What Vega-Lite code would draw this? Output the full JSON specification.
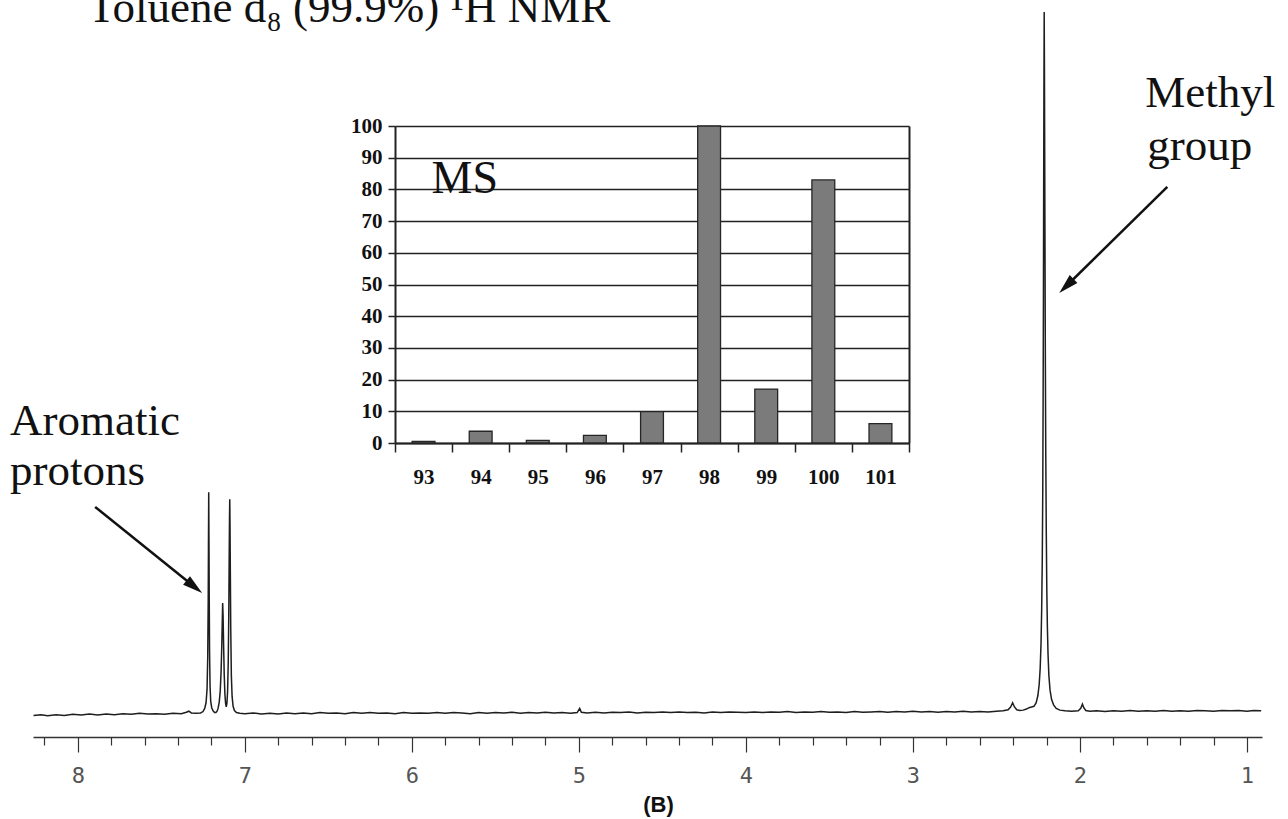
{
  "$schema": "https://vega.github.io/schema/vega-lite/v6.json",
  "width": 1229,
  "height": 737,
  "autosize": {"type": "none"},
  "padding": {"left": 33, "top": 0, "right": 26, "bottom": 82},
  "background": "white",
  "config": {"view": {"stroke": null}},
  "datasets": {
    "nmr": [
      {"shift": 8.265, "intensity": -0.2}, {"shift": 8.22, "intensity": -0.1}, {"shift": 8.18, "intensity": -0.25}, {"shift": 8.13, "intensity": -0.1},
      {"shift": 8.08, "intensity": -0.2}, {"shift": 8.03, "intensity": -0.05}, {"shift": 7.98, "intensity": -0.15}, {"shift": 7.93, "intensity": 0.0},
      {"shift": 7.88, "intensity": -0.15}, {"shift": 7.83, "intensity": 0.0}, {"shift": 7.78, "intensity": -0.1}, {"shift": 7.73, "intensity": 0.05},
      {"shift": 7.68, "intensity": -0.05}, {"shift": 7.63, "intensity": 0.1}, {"shift": 7.58, "intensity": 0.0}, {"shift": 7.53, "intensity": 0.05},
      {"shift": 7.48, "intensity": -0.05}, {"shift": 7.43, "intensity": 0.1}, {"shift": 7.38, "intensity": 0.05}, {"shift": 7.35, "intensity": 0.25},
      {"shift": 7.335, "intensity": 0.4}, {"shift": 7.32, "intensity": 0.15}, {"shift": 7.29, "intensity": 0.1}, {"shift": 7.265, "intensity": 0.15},
      {"shift": 7.25, "intensity": 0.35}, {"shift": 7.24, "intensity": 0.8}, {"shift": 7.232, "intensity": 1.6}, {"shift": 7.226, "intensity": 3.5},
      {"shift": 7.222, "intensity": 8}, {"shift": 7.219, "intensity": 16}, {"shift": 7.2175, "intensity": 24}, {"shift": 7.216, "intensity": 31.6},
      {"shift": 7.2145, "intensity": 25}, {"shift": 7.213, "intensity": 17}, {"shift": 7.211, "intensity": 9}, {"shift": 7.208, "intensity": 4},
      {"shift": 7.204, "intensity": 1.8}, {"shift": 7.198, "intensity": 0.9}, {"shift": 7.19, "intensity": 0.45}, {"shift": 7.181, "intensity": 0.2},
      {"shift": 7.173, "intensity": 0.2}, {"shift": 7.166, "intensity": 0.4}, {"shift": 7.16, "intensity": 0.8}, {"shift": 7.153, "intensity": 1.7},
      {"shift": 7.147, "intensity": 3.3}, {"shift": 7.142, "intensity": 6}, {"shift": 7.138, "intensity": 9.5}, {"shift": 7.135, "intensity": 13},
      {"shift": 7.1325, "intensity": 15.8}, {"shift": 7.13, "intensity": 14}, {"shift": 7.127, "intensity": 10}, {"shift": 7.123, "intensity": 5.5},
      {"shift": 7.119, "intensity": 2.8}, {"shift": 7.115, "intensity": 1.5}, {"shift": 7.111, "intensity": 1.0}, {"shift": 7.107, "intensity": 1.5},
      {"shift": 7.103, "intensity": 3.2}, {"shift": 7.099, "intensity": 7.5}, {"shift": 7.096, "intensity": 14}, {"shift": 7.0935, "intensity": 22},
      {"shift": 7.0915, "intensity": 28}, {"shift": 7.09, "intensity": 30.6}, {"shift": 7.0885, "intensity": 27}, {"shift": 7.0865, "intensity": 20},
      {"shift": 7.084, "intensity": 12}, {"shift": 7.0805, "intensity": 5.5}, {"shift": 7.076, "intensity": 2.5}, {"shift": 7.07, "intensity": 1.1},
      {"shift": 7.062, "intensity": 0.5}, {"shift": 7.05, "intensity": 0.2}, {"shift": 7.03, "intensity": 0.1}, {"shift": 7.0, "intensity": 0.05},
      {"shift": 6.95, "intensity": 0.15}, {"shift": 6.9, "intensity": 0.0}, {"shift": 6.85, "intensity": 0.1}, {"shift": 6.8, "intensity": 0.0},
      {"shift": 6.75, "intensity": 0.15}, {"shift": 6.7, "intensity": 0.05}, {"shift": 6.65, "intensity": 0.15}, {"shift": 6.6, "intensity": 0.05},
      {"shift": 6.55, "intensity": 0.2}, {"shift": 6.5, "intensity": 0.1}, {"shift": 6.45, "intensity": 0.15}, {"shift": 6.4, "intensity": 0.05},
      {"shift": 6.35, "intensity": 0.2}, {"shift": 6.3, "intensity": 0.1}, {"shift": 6.25, "intensity": 0.2}, {"shift": 6.2, "intensity": 0.1},
      {"shift": 6.15, "intensity": 0.15}, {"shift": 6.1, "intensity": 0.05}, {"shift": 6.05, "intensity": 0.2}, {"shift": 6.0, "intensity": 0.1},
      {"shift": 5.95, "intensity": 0.15}, {"shift": 5.9, "intensity": 0.1}, {"shift": 5.85, "intensity": 0.2}, {"shift": 5.8, "intensity": 0.1},
      {"shift": 5.75, "intensity": 0.2}, {"shift": 5.7, "intensity": 0.15}, {"shift": 5.65, "intensity": 0.05}, {"shift": 5.6, "intensity": 0.2},
      {"shift": 5.55, "intensity": 0.1}, {"shift": 5.5, "intensity": 0.2}, {"shift": 5.45, "intensity": 0.15}, {"shift": 5.4, "intensity": 0.25},
      {"shift": 5.35, "intensity": 0.1}, {"shift": 5.3, "intensity": 0.2}, {"shift": 5.25, "intensity": 0.15}, {"shift": 5.2, "intensity": 0.25},
      {"shift": 5.15, "intensity": 0.15}, {"shift": 5.1, "intensity": 0.2}, {"shift": 5.05, "intensity": 0.1}, {"shift": 5.01, "intensity": 0.2},
      {"shift": 4.995, "intensity": 0.8}, {"shift": 4.985, "intensity": 0.25}, {"shift": 4.95, "intensity": 0.15}, {"shift": 4.9, "intensity": 0.25},
      {"shift": 4.85, "intensity": 0.15}, {"shift": 4.8, "intensity": 0.25}, {"shift": 4.75, "intensity": 0.2}, {"shift": 4.7, "intensity": 0.3},
      {"shift": 4.65, "intensity": 0.15}, {"shift": 4.6, "intensity": 0.25}, {"shift": 4.55, "intensity": 0.2}, {"shift": 4.5, "intensity": 0.3},
      {"shift": 4.45, "intensity": 0.2}, {"shift": 4.4, "intensity": 0.3}, {"shift": 4.35, "intensity": 0.2}, {"shift": 4.3, "intensity": 0.25},
      {"shift": 4.25, "intensity": 0.15}, {"shift": 4.2, "intensity": 0.3}, {"shift": 4.15, "intensity": 0.2}, {"shift": 4.1, "intensity": 0.3},
      {"shift": 4.05, "intensity": 0.25}, {"shift": 4.0, "intensity": 0.2}, {"shift": 3.95, "intensity": 0.3}, {"shift": 3.9, "intensity": 0.2},
      {"shift": 3.85, "intensity": 0.3}, {"shift": 3.8, "intensity": 0.25}, {"shift": 3.75, "intensity": 0.35}, {"shift": 3.7, "intensity": 0.2},
      {"shift": 3.65, "intensity": 0.3}, {"shift": 3.6, "intensity": 0.25}, {"shift": 3.55, "intensity": 0.35}, {"shift": 3.5, "intensity": 0.25},
      {"shift": 3.45, "intensity": 0.3}, {"shift": 3.4, "intensity": 0.2}, {"shift": 3.35, "intensity": 0.35}, {"shift": 3.3, "intensity": 0.25},
      {"shift": 3.25, "intensity": 0.3}, {"shift": 3.2, "intensity": 0.35}, {"shift": 3.15, "intensity": 0.25}, {"shift": 3.1, "intensity": 0.35},
      {"shift": 3.05, "intensity": 0.3}, {"shift": 3.0, "intensity": 0.4}, {"shift": 2.95, "intensity": 0.3}, {"shift": 2.9, "intensity": 0.35},
      {"shift": 2.85, "intensity": 0.25}, {"shift": 2.8, "intensity": 0.35}, {"shift": 2.75, "intensity": 0.3}, {"shift": 2.7, "intensity": 0.4},
      {"shift": 2.65, "intensity": 0.3}, {"shift": 2.6, "intensity": 0.35}, {"shift": 2.55, "intensity": 0.3}, {"shift": 2.5, "intensity": 0.4},
      {"shift": 2.46, "intensity": 0.45}, {"shift": 2.43, "intensity": 0.6}, {"shift": 2.415, "intensity": 1.0}, {"shift": 2.403, "intensity": 1.6},
      {"shift": 2.392, "intensity": 1.0}, {"shift": 2.378, "intensity": 0.6}, {"shift": 2.36, "intensity": 0.5}, {"shift": 2.34, "intensity": 0.55},
      {"shift": 2.32, "intensity": 0.7}, {"shift": 2.305, "intensity": 0.9}, {"shift": 2.29, "intensity": 1.0}, {"shift": 2.275, "intensity": 1.1},
      {"shift": 2.262, "intensity": 1.6}, {"shift": 2.252, "intensity": 2.6}, {"shift": 2.244, "intensity": 4.2}, {"shift": 2.238, "intensity": 6.5},
      {"shift": 2.233, "intensity": 10}, {"shift": 2.229, "intensity": 15}, {"shift": 2.2255, "intensity": 22}, {"shift": 2.2225, "intensity": 32},
      {"shift": 2.2205, "intensity": 44}, {"shift": 2.2185, "intensity": 60}, {"shift": 2.217, "intensity": 76}, {"shift": 2.2155, "intensity": 90},
      {"shift": 2.214, "intensity": 100}, {"shift": 2.2125, "intensity": 92}, {"shift": 2.211, "intensity": 80}, {"shift": 2.209, "intensity": 65},
      {"shift": 2.207, "intensity": 50}, {"shift": 2.2045, "intensity": 37}, {"shift": 2.2015, "intensity": 26}, {"shift": 2.1985, "intensity": 18},
      {"shift": 2.195, "intensity": 12.5}, {"shift": 2.191, "intensity": 8.5}, {"shift": 2.186, "intensity": 5.5}, {"shift": 2.179, "intensity": 3.4},
      {"shift": 2.17, "intensity": 2.1}, {"shift": 2.158, "intensity": 1.3}, {"shift": 2.142, "intensity": 0.8}, {"shift": 2.12, "intensity": 0.55},
      {"shift": 2.09, "intensity": 0.45}, {"shift": 2.05, "intensity": 0.4}, {"shift": 2.01, "intensity": 0.45}, {"shift": 1.995, "intensity": 0.8},
      {"shift": 1.985, "intensity": 1.4}, {"shift": 1.977, "intensity": 0.9}, {"shift": 1.965, "intensity": 0.5}, {"shift": 1.94, "intensity": 0.4},
      {"shift": 1.9, "intensity": 0.45}, {"shift": 1.85, "intensity": 0.35}, {"shift": 1.8, "intensity": 0.45}, {"shift": 1.75, "intensity": 0.4},
      {"shift": 1.7, "intensity": 0.5}, {"shift": 1.65, "intensity": 0.4}, {"shift": 1.6, "intensity": 0.45}, {"shift": 1.55, "intensity": 0.4},
      {"shift": 1.5, "intensity": 0.5}, {"shift": 1.45, "intensity": 0.4}, {"shift": 1.4, "intensity": 0.45}, {"shift": 1.35, "intensity": 0.4},
      {"shift": 1.3, "intensity": 0.5}, {"shift": 1.25, "intensity": 0.45}, {"shift": 1.2, "intensity": 0.4}, {"shift": 1.15, "intensity": 0.5},
      {"shift": 1.1, "intensity": 0.45}, {"shift": 1.05, "intensity": 0.5}, {"shift": 1.0, "intensity": 0.4}, {"shift": 0.96, "intensity": 0.5},
      {"shift": 0.915, "intensity": 0.45}
    ],
    "ms": [
      {"mz": 93, "abundance": 0.5}, {"mz": 94, "abundance": 3.7}, {"mz": 95, "abundance": 0.8},
      {"mz": 96, "abundance": 2.4}, {"mz": 97, "abundance": 9.9}, {"mz": 98, "abundance": 100},
      {"mz": 99, "abundance": 17}, {"mz": 100, "abundance": 83}, {"mz": 101, "abundance": 6.1}
    ]
  },
  "layer": [
    {
      "layer": [
        {
          "data": {"name": "nmr"},
          "mark": {"type": "line", "color": "#1e1e1e", "strokeWidth": 1.5},
          "encoding": {
            "x": {
              "field": "shift", "type": "quantitative",
              "scale": {"domain": [0.91, 8.268], "reverse": true, "nice": false, "zero": false},
              "axis": {
                "orient": "bottom",
                "values": [8.2, 8, 7.8, 7.6, 7.4, 7.2, 7, 6.8, 6.6, 6.4, 6.2, 6, 5.8, 5.6, 5.4, 5.2, 5, 4.8, 4.6, 4.4, 4.2, 4, 3.8, 3.6, 3.4, 3.2, 3, 2.8, 2.6, 2.4, 2.2, 2, 1.8, 1.6, 1.4, 1.2, 1],
                "tickCount": 100,
                "labelExpr": "abs(datum.value - round(datum.value)) < 0.01 ? format(datum.value, 'd') : ''",
                "tickSize": {"condition": {"test": "abs(datum.value - round(datum.value)) < 0.01", "value": 15}, "value": 8},
                "tickColor": "#333", "tickWidth": 1.2,
                "domainColor": "#333", "domainWidth": 1.5,
                "labelFont": "DejaVu Sans Mono", "labelFontSize": 22, "labelColor": "#555",
                "labelPadding": 13, "labelOverlap": false, "labelFlush": false,
                "grid": false,
                "title": "(B)", "titleFont": "Liberation Sans", "titleFontSize": 22, "titleFontWeight": "bold",
                "titleColor": "#111", "titlePadding": 8, "titleX": 625
              }
            },
            "y": {
              "field": "intensity", "type": "quantitative",
              "scale": {"domain": [-3.277, 101.71], "nice": false, "zero": false},
              "axis": null
            }
          }
        },
        {
          "data": {"values": [{}]},
          "mark": {"type": "text", "text": "Toluene d₈ (99.9%) ¹H NMR", "font": "Liberation Serif", "fontSize": 45, "align": "left", "baseline": "alphabetic", "color": "#111"},
          "encoding": {"x": {"datum": 7.938}, "y": {"datum": 98.6}}
        },
        {
          "data": {"values": [{}]},
          "mark": {"type": "text", "text": "Methyl", "font": "Liberation Serif", "fontSize": 45, "align": "left", "baseline": "alphabetic", "color": "#111"},
          "encoding": {"x": {"datum": 1.609}, "y": {"datum": 86.5}}
        },
        {
          "data": {"values": [{}]},
          "mark": {"type": "text", "text": "group", "font": "Liberation Serif", "fontSize": 45, "align": "left", "baseline": "alphabetic", "color": "#111"},
          "encoding": {"x": {"datum": 1.597}, "y": {"datum": 78.9}}
        },
        {
          "data": {"values": [{}]},
          "mark": {"type": "text", "text": "Aromatic", "font": "Liberation Serif", "fontSize": 45, "align": "left", "baseline": "alphabetic", "color": "#111"},
          "encoding": {"x": {"datum": 8.405}, "y": {"datum": 39.7}}
        },
        {
          "data": {"values": [{}]},
          "mark": {"type": "text", "text": "protons", "font": "Liberation Serif", "fontSize": 45, "align": "left", "baseline": "alphabetic", "color": "#111"},
          "encoding": {"x": {"datum": 8.405}, "y": {"datum": 32.6}}
        },
        {
          "data": {"values": [{}]},
          "mark": {"type": "rule", "color": "#111", "strokeWidth": 2.5},
          "encoding": {"x": {"datum": 7.896}, "y": {"datum": 29.5}, "x2": {"datum": 7.302}, "y2": {"datum": 18.13}}
        },
        {
          "data": {"values": [{}]},
          "mark": {"type": "rule", "color": "#111", "strokeWidth": 2.5},
          "encoding": {"x": {"datum": 1.477}, "y": {"datum": 75.1}, "x2": {"datum": 2.081}, "y2": {"datum": 60.97}}
        },
        {
          "data": {"values": [{}]},
          "mark": {"type": "point", "shape": "M0,-1L0.55,1L-0.55,1Z", "size": 400, "filled": true, "color": "#111", "opacity": 1, "angle": 128.8},
          "encoding": {"x": {"datum": 7.302}, "y": {"datum": 18.13}}
        },
        {
          "data": {"values": [{}]},
          "mark": {"type": "point", "shape": "M0,-1L0.55,1L-0.55,1Z", "size": 400, "filled": true, "color": "#111", "opacity": 1, "angle": 225.6},
          "encoding": {"x": {"datum": 2.081}, "y": {"datum": 60.97}}
        }
      ]
    },
    {
      "layer": [
        {
          "data": {"name": "ms"},
          "mark": {"type": "bar", "fill": "#7b7b7b", "stroke": "#262626", "strokeWidth": 1.3, "width": {"band": 0.4}},
          "encoding": {
            "x": {
              "field": "mz", "type": "ordinal",
              "scale": {"range": [362, 876], "paddingInner": 0, "paddingOuter": 0},
              "axis": {
                "orient": "bottom", "offset": -294, "title": null, "labelAngle": 0,
                "tickBand": "extent", "tickSize": 9, "tickColor": "#222", "tickWidth": 1.5,
                "domainColor": "#222", "domainWidth": 2,
                "labelFont": "Liberation Serif", "labelFontWeight": "bold", "labelFontSize": 21, "labelColor": "#111",
                "labelPadding": 14, "grid": false
              }
            },
            "y": {
              "field": "abundance", "type": "quantitative",
              "scale": {"domain": [0, 100], "range": [443, 126], "nice": false, "zero": false},
              "axis": {
                "orient": "left", "offset": -362, "title": null,
                "values": [0, 10, 20, 30, 40, 50, 60, 70, 80, 90, 100],
                "grid": true, "gridColor": "#222", "gridWidth": 1.5, "gridOpacity": 1,
                "tickSize": 7, "tickColor": "#222", "tickWidth": 1.5,
                "domainColor": "#222", "domainWidth": 2,
                "labelFont": "Liberation Serif", "labelFontWeight": "bold", "labelFontSize": 21, "labelColor": "#111",
                "labelPadding": 6
              }
            }
          }
        },
        {
          "data": {"name": "ms"},
          "mark": {"type": "point", "opacity": 0},
          "encoding": {
            "x": {"field": "mz", "type": "ordinal", "axis": null},
            "y": {
              "field": "abundance", "type": "quantitative",
              "axis": {"orient": "right", "offset": -353, "title": null, "labels": false, "ticks": false, "grid": false, "domainColor": "#222", "domainWidth": 2}
            }
          }
        },
        {
          "data": {"values": [{}]},
          "mark": {"type": "text", "text": "MS", "font": "Liberation Serif", "fontSize": 46, "align": "left", "baseline": "alphabetic", "dx": 8, "color": "#111"},
          "encoding": {"x": {"datum": 93, "type": "ordinal", "axis": null}, "y": {"datum": 78.9, "axis": null}}
        }
      ],
      "resolve": {"axis": {"x": "independent", "y": "independent"}}
    }
  ],
  "resolve": {"scale": {"x": "independent", "y": "independent"}}
}
